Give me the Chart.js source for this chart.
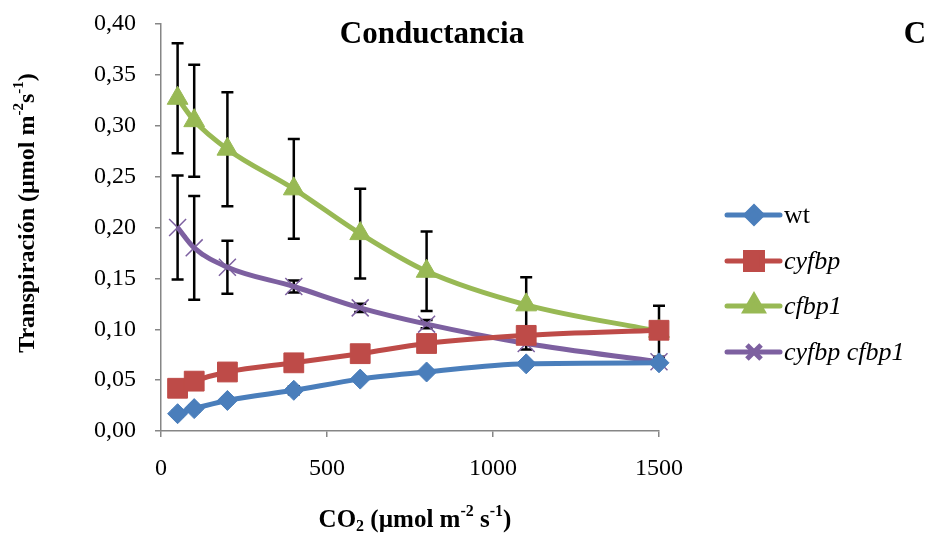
<!DOCTYPE html>
<html>
<head>
<meta charset="utf-8">
<script src="https://cdn.jsdelivr.net/npm/chart.js@4.4.0/dist/chart.umd.min.js"></script>
<style>
  body { margin: 0; background: #fff; }
  #wrap { width: 930px; height: 540px; }
</style>
</head>
<body>
<div id="wrap"><canvas id="myChart" width="930" height="540"></canvas></div>
<script>
const co2 = [50, 100, 200, 400, 600, 800, 1100, 1500];

const seriesNames = ['wt', 'cyfbp', 'cfbp1', 'cyfbp cfbp1'];
const wt = [0.017, 0.022, 0.030, 0.040, 0.051, 0.058, 0.066, 0.067];
const cyfbp = [0.042, 0.049, 0.058, 0.067, 0.076, 0.086, 0.094, 0.099];
const cfbp1 = [0.327, 0.305, 0.277, 0.238, 0.194, 0.157, 0.124, 0.098];
const cyfbpCfbp1 = [0.200, 0.180, 0.161, 0.142, 0.121, 0.105, 0.086, 0.068];

const wtErr = [0.003, 0.003, 0.003, 0.004, 0.002, 0.002, 0.002, 0.002];
const cyfbpErr = [0.002, 0.002, 0.002, 0.002, 0.002, 0.002, 0.002, 0.002];
const cfbp1Err = [0.054, 0.055, 0.056, 0.049, 0.044, 0.039, 0.027, 0.025];
const cyfbpCfbp1Err = [0.051, 0.051, 0.026, 0.006, 0.004, 0.004, 0.006, 0.002];

const yTicks = [0, 0.05, 0.10, 0.15, 0.20, 0.25, 0.30, 0.35, 0.40];
const xTicks = [0, 500, 1000, 1500];

const colors = ['#4A7EBB', '#BE4B48', '#98B954', '#7D60A0'];
const markers = ['rectRot', 'rect', 'triangle', 'crossRot'];
const radii = [10, 14, 12, 12];
const values = [wt, cyfbp, cfbp1, cyfbpCfbp1];
const errors = [wtErr, cyfbpErr, cfbp1Err, cyfbpCfbp1Err];

const serif = '"Liberation Serif", "Times New Roman", serif';

function toPoints(arr) {
  return co2.map((x, i) => ({ x: x, y: arr[i] }));
}

const datasets = values.map((arr, i) => ({
  label: seriesNames[i],
  data: toPoints(arr),
  showLine: true,
  borderColor: colors[i],
  backgroundColor: colors[i],
  borderWidth: 5,
  tension: 0.4,
  cubicInterpolationMode: 'monotone',
  pointStyle: markers[i],
  pointRadius: radii[i],
  pointBorderWidth: i === 3 ? 1.5 : 1,
  pointBorderColor: colors[i],
  pointBackgroundColor: colors[i],
  clip: false
}));

// error bars, drawn under the lines
const errorBars = {
  id: 'errorBars',
  beforeDatasetsDraw(chart) {
    const c = chart.ctx;
    const xs = chart.scales.x, ys = chart.scales.y;
    c.save();
    c.strokeStyle = '#000';
    c.lineWidth = 2.5;
    errors.forEach((errArr, s) => {
      errArr.forEach((e, i) => {
        const px = xs.getPixelForValue(co2[i]);
        const top = ys.getPixelForValue(values[s][i] + e);
        const bot = ys.getPixelForValue(values[s][i] - e);
        c.beginPath();
        c.moveTo(px, top); c.lineTo(px, bot);
        c.moveTo(px - 6, top); c.lineTo(px + 6, top);
        c.moveTo(px - 6, bot); c.lineTo(px + 6, bot);
        c.stroke();
      });
    });
    c.restore();
  }
};

// draw pieces of text one after another, with sub/superscripts
function drawRich(c, parts, size) {
  const small = Math.round(size * 0.62);
  let w = 0;
  parts.forEach(p => {
    c.font = 'bold ' + (p.t ? small : size) + 'px ' + serif;
    w += c.measureText(p.s).width;
  });
  let x = -w / 2;
  parts.forEach(p => {
    c.font = 'bold ' + (p.t ? small : size) + 'px ' + serif;
    const dy = p.t === 'sup' ? -size * 0.35 : (p.t === 'sub' ? size * 0.22 : 0);
    c.fillText(p.s, x, dy);
    x += c.measureText(p.s).width;
  });
}

const labels = {
  id: 'labels',
  afterDraw(chart) {
    const c = chart.ctx;
    c.save();
    c.fillStyle = '#000';
    c.textBaseline = 'middle';

    c.font = 'bold 31px ' + serif;
    c.textAlign = 'center';
    c.fillText('Conductancia', 432, 35);
    c.fillText('C', 915, 35);
    c.textAlign = 'left';

    // y axis title
    c.save();
    c.translate(28, 213);
    c.rotate(-Math.PI / 2);
    drawRich(c, [
      { s: 'Transpiración (µmol m' }, { s: '-2', t: 'sup' },
      { s: 's' }, { s: '-1', t: 'sup' }, { s: ')' }
    ], 24);
    c.restore();

    // x axis title
    c.save();
    c.translate(415, 521);
    drawRich(c, [
      { s: 'CO' }, { s: '2', t: 'sub' }, { s: ' (µmol m' }, { s: '-2', t: 'sup' },
      { s: ' s' }, { s: '-1', t: 'sup' }, { s: ')' }
    ], 25);
    c.restore();

    // legend
    const rows = [215, 261, 306, 352];
    seriesNames.forEach((name, i) => {
      const y = rows[i];
      c.strokeStyle = colors[i];
      c.fillStyle = colors[i];
      c.lineWidth = 5;
      c.lineCap = 'round';
      c.beginPath(); c.moveTo(727, y); c.lineTo(780, y); c.stroke();
      c.lineCap = 'butt';
      Chart.helpers.drawPoint(c, {
        pointStyle: markers[i], radius: radii[i] - 2, rotation: 0,
        borderWidth: i === 3 ? 1.5 : 1
      }, 754, y);
      c.fillStyle = '#000';
      c.font = (i === 0 ? '' : 'italic ') + '26px ' + serif;
      c.fillText(name, 784, y + 1);
    });
    c.restore();
  }
};

new Chart(document.getElementById('myChart').getContext('2d'), {
  type: 'scatter',
  data: { datasets: datasets },
  options: {
    responsive: false,
    animation: false,
    layout: { padding: { top: 24, right: 271, left: 0, bottom: 0 } },
    plugins: {
      legend: { display: false },
      tooltip: { enabled: false }
    },
    scales: {
      x: {
        type: 'linear',
        min: 0, max: 1500,
        afterBuildTicks: s => { s.ticks = xTicks.map(v => ({ value: v })); },
        afterFit: s => { s.height = 109; s.paddingLeft = 0; s.paddingRight = 0; },
        grid: { drawOnChartArea: false, drawTicks: true, tickLength: 6, color: '#868686', lineWidth: 1.5 },
        border: { color: '#868686', width: 1.5 },
        ticks: {
          color: '#000', padding: 17,
          font: { family: serif, size: 24 },
          callback: v => String(v)
        }
      },
      y: {
        min: 0, max: 0.40,
        afterBuildTicks: s => { s.ticks = yTicks.map(v => ({ value: v })); },
        afterFit: s => { s.width = 161; s.paddingTop = 0; s.paddingBottom = 0; },
        grid: { drawOnChartArea: false, drawTicks: true, tickLength: 6, color: '#868686', lineWidth: 1.5 },
        border: { color: '#868686', width: 1.5 },
        ticks: {
          color: '#000', padding: 19,
          font: { family: serif, size: 24 },
          callback: v => v.toFixed(2).replace('.', ',')
        }
      }
    }
  },
  plugins: [errorBars, labels]
});
</script>
</body>
</html>
